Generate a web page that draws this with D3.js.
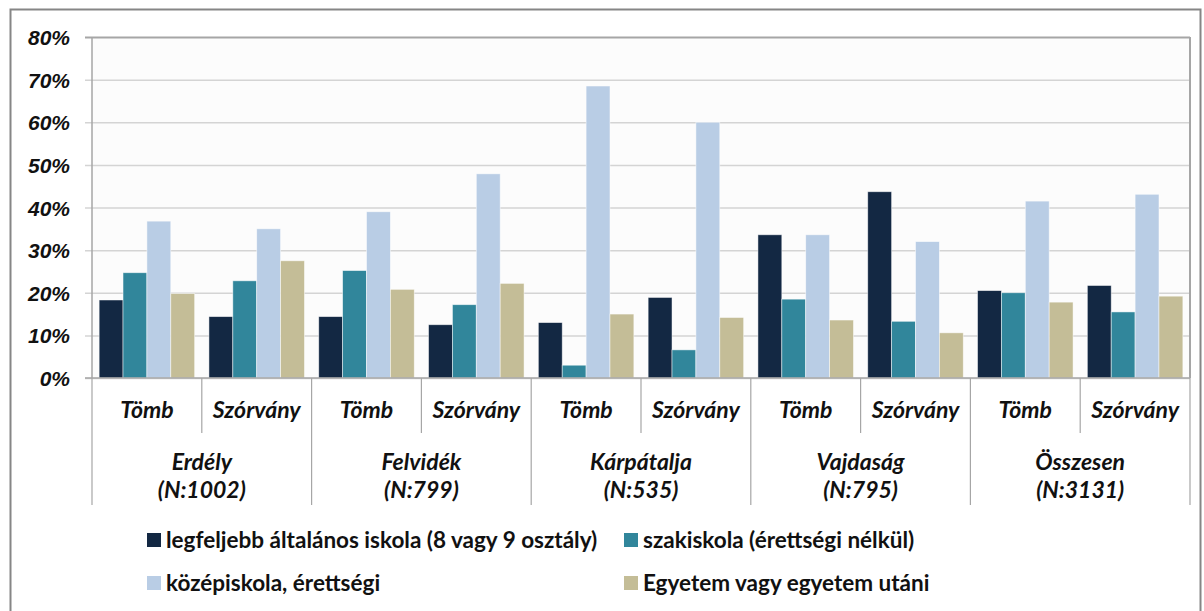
<!DOCTYPE html>
<html lang="hu">
<head>
<meta charset="utf-8">
<title>Iskolai végzettség</title>
<script src="https://cdn.jsdelivr.net/npm/d3@7"></script>
<style>
  body { margin: 0; background: #fff; }
  svg { display: block; }
</style>
</head>
<body>
<script>
// regions and sub-groups
var regions = ["Erdély", "Felvidék", "Kárpátalja", "Vajdaság", "Összesen"];
var regionN = ["(N:1002)", "(N:799)", "(N:535)", "(N:795)", "(N:3131)"];
var subGroups = ["Tömb", "Szórvány"];

var seriesNames = [
  "legfeljebb általános iskola (8 vagy 9 osztály)",
  "szakiskola (érettségi nélkül)",
  "középiskola, érettségi",
  "Egyetem vagy egyetem utáni"
];
var colors = ["#132843", "#31869b", "#b9cde5", "#c4bd97"];

// values in %, order: Erdély T, Erdély Sz, Felvidék T, ... Összesen Sz
var altalanos = [18.3, 14.4, 14.4, 12.5, 13.0, 18.9, 33.6, 43.7, 20.5, 21.7];
var szakiskola = [24.7, 22.8, 25.2, 17.2, 3.0, 6.6, 18.5, 13.3, 20.0, 15.5];
var kozepiskola = [36.8, 35.0, 39.0, 47.9, 68.5, 60.0, 33.6, 32.0, 41.5, 43.1];
var egyetem = [19.8, 27.5, 20.8, 22.2, 15.0, 14.2, 13.6, 10.6, 17.8, 19.2];
var yTicks = [0, 10, 20, 30, 40, 50, 60, 70, 80];

var series = [altalanos, szakiskola, kozepiskola, egyetem];

// one row per bar group
var rows = [];
regions.forEach(function(r, i) {
  subGroups.forEach(function(s, j) {
    rows.push({ key: r + "|" + s, region: i, sub: s, idx: rows.length });
  });
});

var W = 1204, H = 611;
var plotL = 92, plotR = 1190, plotT = 37, plotB = 378;

var svg = d3.select("body").append("svg")
  .attr("width", W)
  .attr("height", H);

// outer frame
svg.append("rect")
  .attr("x", 10.5).attr("y", 9.5)
  .attr("width", 1190).attr("height", 640)
  .attr("fill", "#fff")
  .attr("stroke", "#868686")
  .attr("stroke-width", 2);

var x0 = d3.scaleBand()
  .domain(rows.map(function(d) { return d.key; }))
  .range([plotL, plotR])
  .paddingInner(0.13)
  .paddingOuter(0.065);

var x1 = d3.scaleBand()
  .domain(d3.range(series.length))
  .range([0, x0.bandwidth()]);

var y = d3.scaleLinear()
  .domain([0, 80])
  .range([plotB, plotT]);

// plot background
svg.append("rect")
  .attr("x", plotL).attr("y", plotT)
  .attr("width", plotR - plotL).attr("height", plotB - plotT)
  .attr("fill", "#fcfcfc");

// y axis with gridlines
var yAxis = svg.append("g")
  .attr("transform", "translate(" + plotL + ",0)")
  .call(d3.axisLeft(y)
    .tickValues(yTicks)
    .tickSize(-(plotR - plotL))
    .tickFormat(function(d) { return d + "%"; }));

yAxis.select(".domain").remove();
yAxis.selectAll(".tick line")
  .attr("x1", -7)
  .attr("stroke", function(d) { return d === 80 ? "#a6a6a6" : "#d4d4d4"; })
  .attr("stroke-width", function(d) { return d === 80 ? 2 : 1.5; });
yAxis.selectAll(".tick text")
  .attr("x", -22)
  .attr("dy", "0.36em")
  .attr("fill", "#111")
  .style("font-family", "'Liberation Sans', Arial, sans-serif")
  .style("font-size", "21px")
  .style("font-weight", "bold")
  .style("font-style", "italic");

// left and right plot borders
svg.append("line")
  .attr("x1", plotL).attr("x2", plotL)
  .attr("y1", plotT).attr("y2", plotB)
  .attr("stroke", "#a6a6a6").attr("stroke-width", 1.5);
svg.append("line")
  .attr("x1", plotR).attr("x2", plotR)
  .attr("y1", plotT).attr("y2", plotB)
  .attr("stroke", "#a6a6a6").attr("stroke-width", 2);

// bars
var groups = svg.selectAll("g.grp")
  .data(rows)
  .enter()
  .append("g")
  .attr("class", "grp")
  .attr("transform", function(d) { return "translate(" + x0(d.key) + ",0)"; });

groups.selectAll("rect")
  .data(function(d) {
    return series.map(function(s, k) { return { k: k, v: s[d.idx] }; });
  })
  .enter()
  .append("rect")
  .attr("x", function(d) { return x1(d.k); })
  .attr("y", function(d) { return y(d.v); })
  .attr("width", x1.bandwidth())
  .attr("height", function(d) { return y(0) - y(d.v); })
  .attr("fill", function(d) { return colors[d.k]; })
  .attr("stroke", "rgba(255,255,255,0.6)")
  .attr("stroke-width", 0.8);

// x axis baseline
svg.append("line")
  .attr("x1", plotL - 7).attr("x2", plotR)
  .attr("y1", plotB).attr("y2", plotB)
  .attr("stroke", "#a6a6a6").attr("stroke-width", 1.5);

// category separators
var step = (plotR - plotL) / rows.length;
var sepData = d3.range(rows.length + 1);
svg.selectAll("line.sep")
  .data(sepData)
  .enter()
  .append("line")
  .attr("class", "sep")
  .attr("x1", function(i) { return plotL + i * step; })
  .attr("x2", function(i) { return plotL + i * step; })
  .attr("y1", plotB)
  .attr("y2", function(i) { return i % 2 === 0 ? 505 : 433; })
  .attr("stroke", "#a6a6a6")
  .attr("stroke-width", 1.2);

var labelFont = "Lato, 'Open Sans', sans-serif";

// sub-group labels
svg.selectAll("text.sub")
  .data(rows)
  .enter()
  .append("text")
  .attr("class", "sub")
  .attr("x", function(d, i) { return plotL + (i + 0.5) * step; })
  .attr("y", 418)
  .attr("text-anchor", "middle")
  .style("font-family", labelFont)
  .style("font-size", "23px")
  .style("font-weight", "bold")
  .style("font-style", "italic")
  .attr("fill", "#111")
  .text(function(d) { return d.sub; });

// region labels
var regLabels = svg.selectAll("text.reg")
  .data(regions)
  .enter()
  .append("text")
  .attr("class", "reg")
  .attr("text-anchor", "middle")
  .style("font-family", labelFont)
  .style("font-size", "23px")
  .style("font-weight", "bold")
  .style("font-style", "italic")
  .attr("fill", "#111");

regLabels.append("tspan")
  .attr("x", function(d, i) { return plotL + (i * 2 + 1) * step; })
  .attr("y", 470)
  .text(function(d) { return d; });
regLabels.append("tspan")
  .attr("x", function(d, i) { return plotL + (i * 2 + 1) * step; })
  .attr("y", 498)
  .text(function(d, i) { return regionN[i]; });

// legend
var legPos = [[147, 540], [624, 540], [147, 583], [624, 583]];
var leg = svg.selectAll("g.leg")
  .data(seriesNames)
  .enter()
  .append("g")
  .attr("class", "leg")
  .attr("transform", function(d, i) { return "translate(" + legPos[i][0] + "," + legPos[i][1] + ")"; });

leg.append("rect")
  .attr("x", 0).attr("y", -7)
  .attr("width", 14).attr("height", 14)
  .attr("fill", function(d, i) { return colors[i]; });

leg.append("text")
  .attr("x", 19)
  .attr("y", 0)
  .attr("dy", "0.35em")
  .style("font-family", labelFont)
  .style("font-size", "22.5px")
  .style("font-weight", "bold")
  .attr("fill", "#111")
  .text(function(d) { return d; });
</script>
</body>
</html>
